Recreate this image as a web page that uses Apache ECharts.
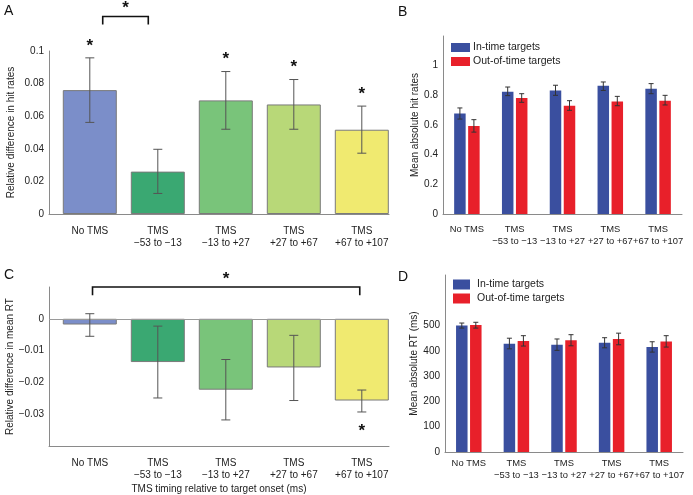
<!DOCTYPE html>
<html>
<head>
<meta charset="utf-8">
<script src="https://cdn.jsdelivr.net/npm/echarts@6/dist/echarts.min.js"></script>
<style>
html,body{margin:0;padding:0;background:#fff;}
#chart{width:693px;height:495px;}
</style>
</head>
<body>
<div id="chart"></div>
<script>
// ---------- DATA ----------
const categories = ['No TMS', 'TMS\n\u221253 to \u221213', 'TMS\n\u221213 to +27', 'TMS\n+27 to +67', 'TMS\n+67 to +107'];

// Panel A: relative difference in hit rates
const hitDiff     = [0.0760, 0.0260, 0.0697, 0.0672, 0.0517];
const hitDiffLow  = [0.0562, 0.0126, 0.0520, 0.0520, 0.0373];
const hitDiffHigh = [0.0958, 0.0397, 0.0874, 0.0825, 0.0662];
const hitDiffSig  = [true, false, true, true, true];

// Panel C: relative difference in mean RT
const rtDiff     = [-0.0018, -0.0136, -0.0223, -0.0153, -0.0257];
const rtDiffLow  = [-0.0055, -0.0249, -0.0318, -0.0257, -0.0293];
const rtDiffHigh = [ 0.0016, -0.0023, -0.0128, -0.0052, -0.0224];
const rtDiffSig  = [false, false, false, false, true];

// Panel B: mean absolute hit rates
const hitIn      = [0.678, 0.825, 0.833, 0.865, 0.845];
const hitInLow   = [0.640, 0.798, 0.800, 0.833, 0.811];
const hitInHigh  = [0.715, 0.856, 0.868, 0.890, 0.879];
const hitOut     = [0.593, 0.782, 0.730, 0.759, 0.764];
const hitOutLow  = [0.552, 0.753, 0.699, 0.730, 0.735];
const hitOutHigh = [0.636, 0.811, 0.764, 0.793, 0.800];

// Panel D: mean absolute RT (ms)
const rtIn      = [500, 428, 424, 432, 415];
const rtInLow   = [490, 408, 402, 412, 395];
const rtInHigh  = [510, 450, 447, 452, 436];
const rtOut     = [502, 439, 442, 447, 437];
const rtOutLow  = [490, 419, 420, 424, 415];
const rtOutHigh = [513, 460, 464, 470, 460];

// significance brackets: [from, to, lineLevel, endLevel]
const bracketA = [1.19, 1.86, 0.1212, 0.1163];
const bracketC = [1.04, 4.97, 0.0100, 0.0074];

const seriesNames = ['In-time targets', 'Out-of-time targets'];

// ---------- STYLE ----------
const FONT = 'Liberation Sans';
const barColors = ['#7b8ec9', '#3aa872', '#79c47a', '#b8d878', '#f0ea70'];
const blue = '#3a4f9f';
const red = '#e8202a';
const axisGray = '#8a8a8a';
const textCol = '#222';
const pairBarW = 11.5;
const pairGap = 2.5;

const chart = echarts.init(document.getElementById('chart'), null, {renderer: 'canvas'});

function xLabelFmtValue(v) {
  const r = Math.round(v);
  if (Math.abs(v - r) < 1e-6 && r >= 1 && r <= categories.length) return categories[r - 1];
  return '';
}

function errRender(stroke, capHalf, offset) {
  return function (params, api) {
    const x = api.value(0);
    const lo = api.coord([x, api.value(1)]);
    const hi = api.coord([x, api.value(2)]);
    const cx = lo[0] + offset;
    const st = {stroke: stroke, lineWidth: 1};
    return {type: 'group', children: [
      {type: 'line', shape: {x1: cx, y1: lo[1], x2: cx, y2: hi[1]}, style: st},
      {type: 'line', shape: {x1: cx - capHalf, y1: lo[1], x2: cx + capHalf, y2: lo[1]}, style: st},
      {type: 'line', shape: {x1: cx - capHalf, y1: hi[1], x2: cx + capHalf, y2: hi[1]}, style: st}
    ]};
  };
}

function starRender(dy) {
  return function (params, api) {
    const p = api.coord([api.value(0), api.value(1)]);
    return {type: 'text', x: p[0], y: p[1] + dy,
      style: {text: '*', fill: '#111', font: 'bold 17px ' + FONT, align: 'center', verticalAlign: 'middle'}};
  };
}

function bracketRender(params, api) {
  const a = api.coord([api.value(0), api.value(2)]);
  const b = api.coord([api.value(1), api.value(2)]);
  const ae = api.coord([api.value(0), api.value(3)]);
  const be = api.coord([api.value(1), api.value(3)]);
  return {type: 'group', children: [
    {type: 'polyline', shape: {points: [[ae[0], ae[1]], [a[0], a[1]], [b[0], b[1]], [be[0], be[1]]]},
     style: {stroke: '#111', lineWidth: 1.6, fill: null}},
    {type: 'text', x: (a[0] + b[0]) / 2, y: a[1] - 8,
     style: {text: '*', fill: '#111', font: 'bold 17px ' + FONT, align: 'center', verticalAlign: 'middle'}}
  ]};
}

const commonAxisLabel = {color: textCol, fontFamily: FONT, fontSize: 10};
const nameStyle = {color: textCol, fontFamily: FONT, fontSize: 10};

function valueXAxis(gridIndex, withName) {
  const ax = {
    type: 'value', gridIndex: gridIndex, min: 0.4, max: 5.4, interval: 0.2,
    splitLine: {show: false}, axisTick: {show: false},
    axisLine: {onZero: false, lineStyle: {color: axisGray, width: 1}},
    axisLabel: Object.assign({}, commonAxisLabel, {formatter: xLabelFmtValue, margin: 11, lineHeight: 12, showMinLabel: true, showMaxLabel: true})
  };
  if (withName) {
    ax.name = 'TMS timing relative to target onset (ms)';
    ax.nameLocation = 'middle';
    ax.nameGap = 38;
    ax.nameTextStyle = nameStyle;
  }
  return ax;
}

function catXAxis(gridIndex, margin) {
  return {
    type: 'category', gridIndex: gridIndex, data: categories, boundaryGap: true,
    axisTick: {show: false}, splitLine: {show: false},
    axisLine: {lineStyle: {color: axisGray, width: 1}},
    axisLabel: Object.assign({}, commonAxisLabel, {fontSize: 9.4, interval: 0, margin: margin, lineHeight: 11.5})
  };
}

function yAxisDef(gridIndex, opts) {
  return Object.assign({
    type: 'value', gridIndex: gridIndex,
    splitLine: {show: false}, axisTick: {show: false},
    axisLine: {show: true, lineStyle: {color: axisGray, width: 1}},
    nameLocation: 'middle', nameRotate: 90, nameTextStyle: nameStyle
  }, opts);
}

const letterStyle = {fontFamily: FONT, fontSize: 14, fontWeight: 'normal', color: '#111'};

const option = {
  animation: false,
  backgroundColor: '#fff',
  textStyle: {fontFamily: FONT},
  title: [
    {text: 'A', left: 4, top: 4, padding: 0, textStyle: letterStyle},
    {text: 'B', left: 398, top: 5, padding: 0, textStyle: letterStyle},
    {text: 'C', left: 4, top: 268, padding: 0, textStyle: letterStyle},
    {text: 'D', left: 398, top: 270, padding: 0, textStyle: letterStyle}
  ],
  legend: [
    {data: seriesNames, orient: 'vertical', left: 451, top: 42, padding: 0, itemWidth: 19, itemHeight: 9, itemGap: 3,
     icon: 'rect', textStyle: {fontFamily: FONT, fontSize: 10.5, color: textCol, padding: [0, 0, 0, -2]}},
    {data: seriesNames, orient: 'vertical', left: 453, top: 279, padding: 0, itemWidth: 17, itemHeight: 10, itemGap: 3,
     icon: 'rect', textStyle: {fontFamily: FONT, fontSize: 10.5, color: textCol, padding: [0, 0, 0, 2]}}
  ],
  grid: [
    {left: 49, top: 51, width: 340, height: 163},
    {left: 443, top: 36, width: 239, height: 178},
    {left: 49, top: 287, width: 340, height: 163},
    {left: 445, top: 275, width: 238, height: 177}
  ],
  xAxis: [valueXAxis(0, false), catXAxis(1, 10), valueXAxis(2, true), catXAxis(3, 6)],
  yAxis: [
    yAxisDef(0, {min: 0, max: 0.1, interval: 0.02, name: 'Relative difference in hit rates', nameGap: 33,
      axisLabel: Object.assign({}, commonAxisLabel, {margin: 5, formatter: v => v === 0 ? '0' : String(+v.toFixed(2))})}),
    yAxisDef(1, {min: 0, max: 1.2, interval: 0.2, name: 'Mean absolute hit rates', nameGap: 20,
      axisLabel: Object.assign({}, commonAxisLabel, {margin: 5, formatter: v => v > 1.05 ? '' : (v === 0 ? '0' : String(+v.toFixed(1)))})}),
    yAxisDef(2, {min: -0.04, max: 0.01, interval: 0.01, name: 'Relative difference in mean RT', nameGap: 32,
      axisLabel: Object.assign({}, commonAxisLabel, {margin: 5, formatter: v => (v > 0.005 || v < -0.035) ? '' : (Math.abs(v) < 1e-9 ? '0' : '\u2212' + Math.abs(v).toFixed(2))})}),
    yAxisDef(3, {min: 0, max: 700, interval: 100, name: 'Mean absolute RT (ms)', nameGap: 23,
      axisLabel: Object.assign({}, commonAxisLabel, {margin: 5, formatter: v => v > 500 ? '' : String(v)})})
  ],
  series: [
    // Panel A
    {type: 'bar', xAxisIndex: 0, yAxisIndex: 0, barWidth: 54,
     data: hitDiff.map((v, i) => ({value: [i + 1, v], itemStyle: {color: barColors[i], borderColor: '#7a7a7a', borderWidth: 1}}))},
    {type: 'custom', xAxisIndex: 0, yAxisIndex: 0, z: 5, renderItem: errRender('#555', 4.5, 0),
     data: hitDiff.map((v, i) => [i + 1, hitDiffLow[i], hitDiffHigh[i]])},
    {type: 'custom', xAxisIndex: 0, yAxisIndex: 0, z: 6, clip: false, renderItem: starRender(-12),
     data: hitDiff.map((v, i) => [i + 1, hitDiffHigh[i]]).filter((d, i) => hitDiffSig[i])},
    {type: 'custom', xAxisIndex: 0, yAxisIndex: 0, z: 6, clip: false, renderItem: bracketRender, data: [bracketA]},

    // Panel B
    {name: seriesNames[0], type: 'bar', xAxisIndex: 1, yAxisIndex: 1, barWidth: pairBarW, barGap: (pairGap / pairBarW * 100) + '%',
     itemStyle: {color: blue}, data: hitIn},
    {name: seriesNames[1], type: 'bar', xAxisIndex: 1, yAxisIndex: 1, barWidth: pairBarW,
     itemStyle: {color: red}, data: hitOut},
    {type: 'custom', xAxisIndex: 1, yAxisIndex: 1, z: 5, renderItem: errRender('#333', 2.5, -(pairBarW + pairGap) / 2),
     data: hitIn.map((v, i) => [i, hitInLow[i], hitInHigh[i]])},
    {type: 'custom', xAxisIndex: 1, yAxisIndex: 1, z: 5, renderItem: errRender('#333', 2.5, (pairBarW + pairGap) / 2),
     data: hitOut.map((v, i) => [i, hitOutLow[i], hitOutHigh[i]])},

    // Panel C
    {type: 'bar', xAxisIndex: 2, yAxisIndex: 2, barWidth: 54,
     data: rtDiff.map((v, i) => ({value: [i + 1, v], itemStyle: {color: barColors[i], borderColor: '#7a7a7a', borderWidth: 1}})),
     markLine: {silent: true, symbol: 'none', label: {show: false}, lineStyle: {color: '#9a9a9a', type: 'solid', width: 1},
       data: [{yAxis: 0}]}},
    {type: 'custom', xAxisIndex: 2, yAxisIndex: 2, z: 5, renderItem: errRender('#555', 4.5, 0),
     data: rtDiff.map((v, i) => [i + 1, rtDiffLow[i], rtDiffHigh[i]])},
    {type: 'custom', xAxisIndex: 2, yAxisIndex: 2, z: 6, clip: false, renderItem: starRender(19),
     data: rtDiff.map((v, i) => [i + 1, rtDiffLow[i]]).filter((d, i) => rtDiffSig[i])},
    {type: 'custom', xAxisIndex: 2, yAxisIndex: 2, z: 6, clip: false, renderItem: bracketRender, data: [bracketC]},

    // Panel D
    {name: seriesNames[0], type: 'bar', xAxisIndex: 3, yAxisIndex: 3, barWidth: pairBarW, barGap: (pairGap / pairBarW * 100) + '%',
     itemStyle: {color: blue}, data: rtIn},
    {name: seriesNames[1], type: 'bar', xAxisIndex: 3, yAxisIndex: 3, barWidth: pairBarW,
     itemStyle: {color: red}, data: rtOut},
    {type: 'custom', xAxisIndex: 3, yAxisIndex: 3, z: 5, renderItem: errRender('#333', 2.5, -(pairBarW + pairGap) / 2),
     data: rtIn.map((v, i) => [i, rtInLow[i], rtInHigh[i]])},
    {type: 'custom', xAxisIndex: 3, yAxisIndex: 3, z: 5, renderItem: errRender('#333', 2.5, (pairBarW + pairGap) / 2),
     data: rtOut.map((v, i) => [i, rtOutLow[i], rtOutHigh[i]])}
  ]
};

chart.setOption(option);
</script>
</body>
</html>
